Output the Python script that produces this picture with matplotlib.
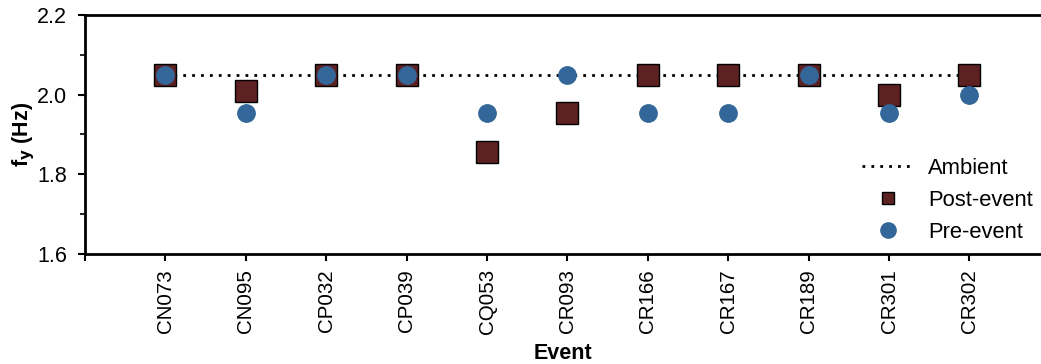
import matplotlib
matplotlib.use("Agg")
import matplotlib.pyplot as plt
from matplotlib.ticker import MultipleLocator, FormatStrFormatter

plt.rcParams["font.family"] = ["Liberation Sans", "DejaVu Sans"]

events = ["CN073", "CN095", "CP032", "CP039", "CQ053", "CR093",
          "CR166", "CR167", "CR189", "CR301", "CR302"]
ambient = 2.05
post_event = [2.05, 2.01, 2.05, 2.05, 1.855, 1.955, 2.05, 2.05, 2.05, 2.00, 2.05]
pre_event = [2.05, 1.953, 2.05, 2.05, 1.953, 2.05, 1.953, 1.953, 2.05, 1.953, 2.00]

x = list(range(1, len(events) + 1))
fs = 15.5

fig = plt.figure(figsize=(10.41, 3.64), dpi=100)
ax = fig.add_axes([0.0817, 0.302, 0.9183, 0.657])

ax.plot([x[0], x[-1]], [ambient, ambient], ls=(0, (1, 2.2)), color="black", lw=2.0,
        label="Ambient", zorder=1)
ax.plot(x, post_event, ls="none", marker="s", ms=16, mfc="#5E2121", mec="black",
        mew=1.0, label="Post-event", zorder=2)
ax.plot(x, pre_event, ls="none", marker="o", ms=12.5, mfc="#336699", mec="#336699",
        label="Pre-event", zorder=3)

ax.set_xlim(0, 11.89)
ax.set_ylim(1.6, 2.2)
ax.set_xticks([0] + x)
ax.set_xticklabels([""] + events, rotation=90, fontsize=14.8)
ax.yaxis.set_major_locator(MultipleLocator(0.2))
ax.yaxis.set_minor_locator(MultipleLocator(0.1))
ax.yaxis.set_major_formatter(FormatStrFormatter("%.1f"))
ax.tick_params(axis="y", labelsize=fs, direction="out", length=5, width=1.5, pad=8)
ax.tick_params(axis="y", which="minor", length=3.5, width=1.2)
ax.tick_params(axis="x", direction="out", length=5, width=1.5, pad=6)
ax.spines["right"].set_visible(False)
for s in ["left", "bottom", "top"]:
    ax.spines[s].set_linewidth(2.0)

ax.set_ylabel("f$_\\mathbf{y}$ (Hz)", fontsize=fs, fontweight="bold", labelpad=0)
ax.set_xlabel("Event", fontsize=fs, fontweight="bold", labelpad=6)

leg = ax.legend(loc="lower right", bbox_to_anchor=(1.012, -0.035), frameon=False,
                fontsize=15.8, handlelength=2.4, labelspacing=0.5, handletextpad=0.6)
handles = leg.legend_handles
handles[1].set_markersize(9)
handles[2].set_markersize(11)

fig.savefig("out.png", dpi=100)
